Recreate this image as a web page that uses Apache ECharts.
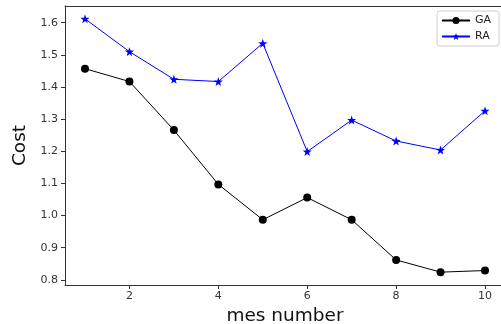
<!DOCTYPE html>
<html>
<head>
<meta charset="utf-8">
<script src="https://cdn.jsdelivr.net/npm/echarts@6/dist/echarts.min.js"></script>
<style>html,body{margin:0;padding:0;background:#fff;overflow:hidden}#c{width:501px;height:324px}</style>
</head>
<body>
<div id="c"></div>
<script>
const xValues = [1, 2, 3, 4, 5, 6, 7, 8, 9, 10];
const gaValues = [1.457, 1.417, 1.266, 1.097, 0.987, 1.056, 0.987, 0.862, 0.824, 0.829];
const raValues = [1.612, 1.510, 1.424, 1.417, 1.536, 1.199, 1.297, 1.232, 1.204, 1.326];
const xTicks = [2, 4, 6, 8, 10];
const yTicks = [0.8, 0.9, 1.0, 1.1, 1.2, 1.3, 1.4, 1.5, 1.6];

const star = 'path://M0,-10 L2.35,-3.24 9.51,-3.09 3.8,1.24 5.88,8.09 0,4 -5.88,8.09 -3.8,1.24 -9.51,-3.09 -2.35,-3.24Z';
const font = 'DejaVu Sans';
const chart = echarts.init(document.getElementById('c'), null, {renderer: 'canvas'});
chart.setOption({
  animation: false,
  backgroundColor: '#fff',
  textStyle: {fontFamily: font},
  grid: {left: 65, top: 6, width: 440, height: 279, show: false, containLabel: false, outerBoundsMode: 'none'},
  legend: {
    left: 437, top: 11, orient: 'vertical', itemWidth: 28, itemHeight: 9, itemGap: 5,
    padding: [4, 8, 4, 4], borderColor: '#d0d0d0', borderWidth: 1, borderRadius: 3,
    textStyle: {fontFamily: font, fontSize: 11, color: '#222'},
    data: ['GA', 'RA']
  },
  xAxis: [{
    type: 'value', min: 0.55, max: 10.45,
    name: 'mes number', nameLocation: 'middle', nameGap: 18,
    nameTextStyle: {fontFamily: font, fontSize: 18.5, color: '#111'},
    axisLine: {show: true, lineStyle: {color: '#333', width: 1}},
    axisTick: {show: true, length: 4, customValues: xTicks, lineStyle: {color: '#333'}},
    axisLabel: {customValues: xTicks, fontSize: 11, color: '#333', margin: 6, fontFamily: font},
    splitLine: {show: false}
  }, {
    type: 'value', min: 0.55, max: 10.45, position: 'top',
    axisLine: {show: true, lineStyle: {color: '#333', width: 1}},
    axisTick: {show: false}, axisLabel: {show: false}, splitLine: {show: false}
  }],
  yAxis: {
    type: 'value', min: 0.784, max: 1.652,
    name: 'Cost', nameLocation: 'middle', nameGap: 34, nameRotate: 90,
    nameTextStyle: {fontFamily: font, fontSize: 18.5, color: '#111'},
    axisLine: {show: true, lineStyle: {color: '#333', width: 1}},
    axisTick: {show: true, length: 4, customValues: yTicks, lineStyle: {color: '#333'}},
    axisLabel: {customValues: yTicks, fontSize: 11, color: '#333', margin: 7, fontFamily: font,
      formatter: v => v.toFixed(1)},
    splitLine: {show: false}
  },
  series: [
    {
      name: 'GA', type: 'line', data: xValues.map((x, i) => [x, gaValues[i]]),
      symbol: 'circle', symbolSize: 8, showAllSymbol: true,
      lineStyle: {color: '#000', width: 1}, itemStyle: {color: '#000'}
    },
    {
      name: 'RA', type: 'line', data: xValues.map((x, i) => [x, raValues[i]]),
      symbol: star, symbolSize: 9, showAllSymbol: true,
      lineStyle: {color: '#0000ff', width: 1}, itemStyle: {color: '#0000ff'}
    }
  ]
});
</script>
</body>
</html>
